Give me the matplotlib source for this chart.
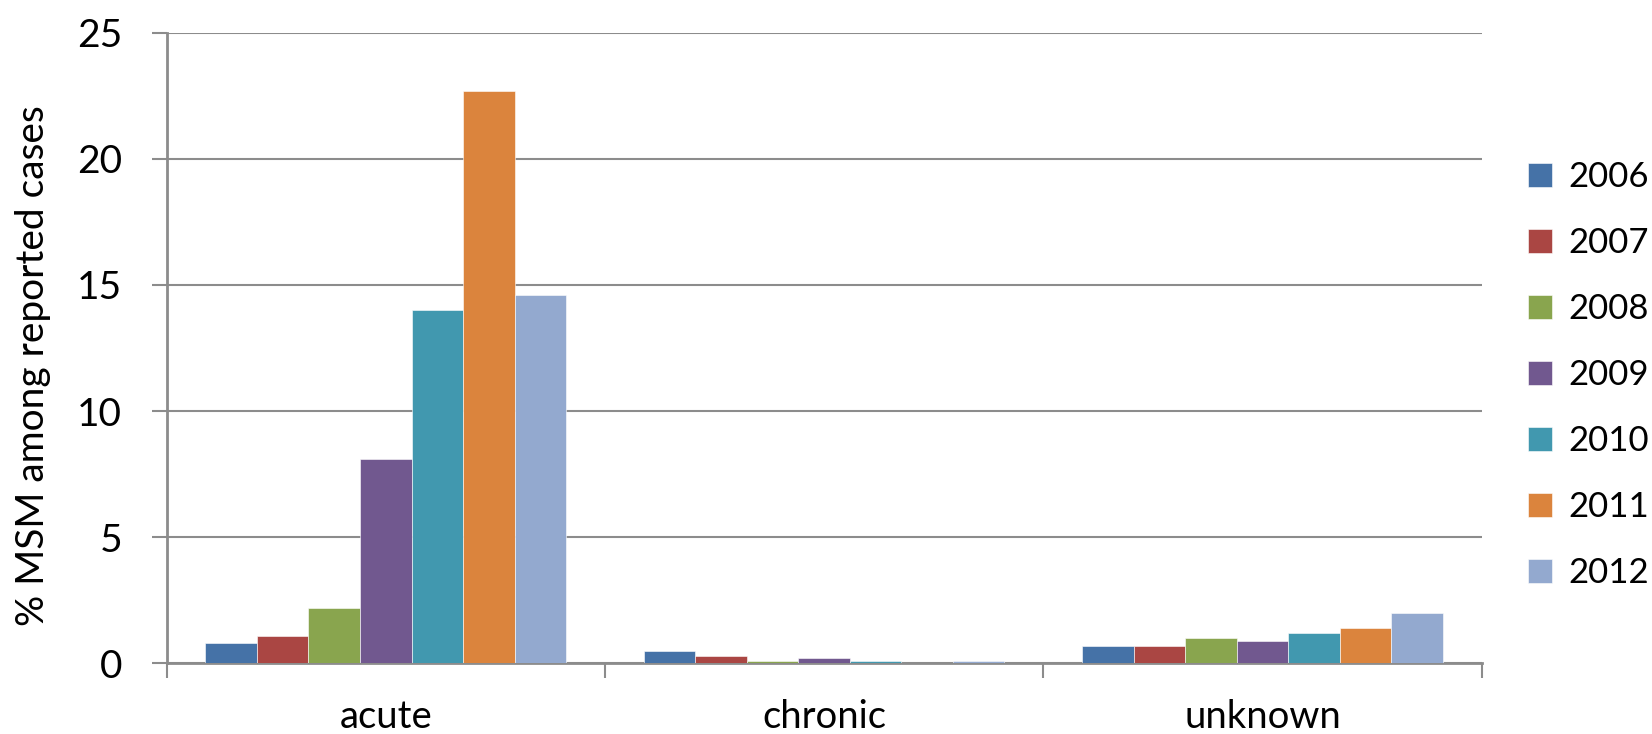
import numpy as np
import matplotlib.pyplot as plt

categories = ["acute", "chronic", "unknown"]
years = ["2006", "2007", "2008", "2009", "2010", "2011", "2012"]
acute = [0.8, 1.1, 2.2, 8.1, 14.0, 22.7, 14.6]
chronic = [0.5, 0.3, 0.1, 0.2, 0.1, 0.0, 0.1]
unknown = [0.7, 0.7, 1.0, 0.9, 1.2, 1.4, 2.0]
colors = ["#4572A7", "#AA4643", "#89A54E", "#71588F", "#4198AF", "#DB843D", "#93A9CF"]

values = np.array([acute, chronic, unknown])  # rows: category, cols: year

fig = plt.figure(figsize=(16.52, 7.34), dpi=100)
ax = fig.add_axes([0.1008, 0.0963, 0.7962, 0.8592])

x = np.arange(len(categories))
w = 0.1175
for j, yr in enumerate(years):
    ax.bar(x + (j - 3) * w, values[:, j], width=w, color=colors[j],
           edgecolor="white", linewidth=0.4, label=yr, zorder=3)

ax.set_xlim(-0.5, 2.5)
ax.set_ylim(0, 25)
ax.set_yticks(np.arange(0, 26, 5))
ax.set_yticklabels([str(v) for v in range(0, 26, 5)], family="Lato", fontsize=28)
ax.yaxis.grid(True, color="#8c8c8c", linewidth=1.5, zorder=0)

# boundary ticks between groups, labels sit on minor ticks at group centres
ax.set_xticks([-0.5, 0.5, 1.5, 2.5])
ax.set_xticklabels([])
ax.set_xticks(x, minor=True)
ax.set_xticklabels(categories, minor=True, family="Lato", fontsize=27.5)
ax.tick_params(axis="x", which="minor", length=0, pad=26)
ax.tick_params(axis="x", which="major", length=11, width=1.5, color="#8c8c8c")
ax.tick_params(axis="y", length=11, width=1.5, color="#8c8c8c", pad=21)

for s in ["top", "right"]:
    ax.spines[s].set_visible(False)
for s in ["left", "bottom"]:
    ax.spines[s].set_color("#8c8c8c")
    ax.spines[s].set_linewidth(2)

ax.set_ylabel("% MSM among reported cases", family="Lato", fontsize=28)
ax.yaxis.set_label_coords(-0.088, 0.472)

leg = ax.legend(loc="center left", bbox_to_anchor=(1.0351, 0.457), frameon=False,
                prop={"family": "Lato", "size": 25}, handlelength=0.69,
                handleheight=0.69, handletextpad=0.46, labelspacing=0.98,
                borderpad=0, borderaxespad=0)

fig.savefig("out.png", dpi=100)
